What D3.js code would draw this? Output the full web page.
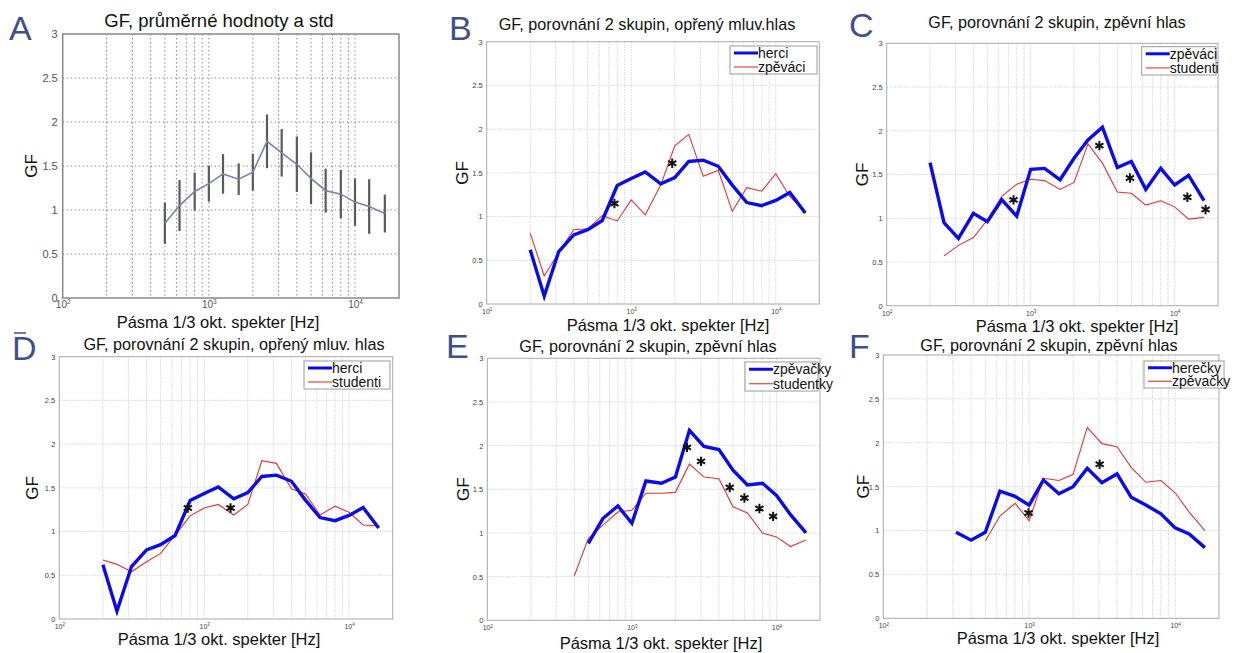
<!DOCTYPE html>
<html>
<head>
<meta charset="utf-8">
<script src="https://cdn.jsdelivr.net/npm/d3@7"></script>
<style>
  body { margin: 0; background: #fff; }
  svg { display: block; font-family: "Liberation Sans", Arial, sans-serif; }
</style>
</head>
<body>
<div id="chart"></div>
<script>
// 1/3 octave band centres, Hz
const bandFreqs = [200, 250, 315, 400, 500, 630, 800, 1000, 1250, 1600, 2000, 2500, 3150, 4000, 5000, 6300, 8000, 10000, 12500, 16000];
const yTicks = [0, 0.5, 1, 1.5, 2, 2.5, 3];
const xTickValues = [100, 1000, 10000];

// A: mean and std (500 Hz .. 16 kHz)
const meanGF = [0.85, 1.05, 1.21, 1.30, 1.41, 1.35, 1.43, 1.78, 1.65, 1.52, 1.36, 1.22, 1.18, 1.09, 1.04, 0.96];
const stdGF = [0.235, 0.29, 0.215, 0.205, 0.225, 0.18, 0.21, 0.305, 0.27, 0.315, 0.295, 0.25, 0.275, 0.27, 0.31, 0.215];

// B, D: spoken voice (200 Hz .. 16 kHz)
const herci = [0.62, 0.09, 0.60, 0.79, 0.85, 0.955, 1.355, 1.435, 1.51, 1.375, 1.445, 1.63, 1.645, 1.575, 1.36, 1.16, 1.125, 1.185, 1.275, 1.04];
const zpevaciMluv = [0.81, 0.32, 0.59, 0.85, 0.86, 1.01, 0.95, 1.19, 1.02, 1.36, 1.81, 1.94, 1.46, 1.53, 1.06, 1.33, 1.29, 1.49, 1.23, 1.05];
const studentiMluv = [0.675, 0.625, 0.54, 0.655, 0.75, 0.96, 1.18, 1.27, 1.31, 1.19, 1.31, 1.81, 1.78, 1.49, 1.43, 1.19, 1.29, 1.22, 1.075, 1.065];

// C: singing voice, men
const zpevaciZpev = [1.635, 0.95, 0.77, 1.056, 0.96, 1.21, 1.025, 1.56, 1.57, 1.44, 1.685, 1.895, 2.04, 1.58, 1.65, 1.33, 1.57, 1.38, 1.49, 1.20];
const studentiZpev = [0.57, 0.69, 0.78, 0.98, 1.25, 1.39, 1.445, 1.43, 1.33, 1.41, 1.85, 1.63, 1.30, 1.285, 1.15, 1.20, 1.13, 0.99, 1.01];

// E, F: singing voice, women
const zpevacky = [0.88, 1.165, 1.31, 1.11, 1.595, 1.57, 1.64, 2.175, 1.99, 1.955, 1.72, 1.55, 1.57, 1.43, 1.21, 1.00];
const studentky = [0.51, 0.94, 1.09, 1.24, 1.26, 1.455, 1.455, 1.465, 1.79, 1.64, 1.62, 1.30, 1.23, 1.00, 0.955, 0.845, 0.92];
const herecky = [0.98, 0.89, 0.98, 1.45, 1.39, 1.29, 1.575, 1.42, 1.50, 1.71, 1.545, 1.645, 1.38, 1.29, 1.19, 1.03, 0.96, 0.805];

// significance marks [Hz, GF]
const starsB = [[765, 1.15], [1920, 1.61]];
const starsC = [[760, 1.21], [3000, 1.83], [4890, 1.46], [12250, 1.24], [16400, 1.10]];
const starsD = [[771, 1.27], [1520, 1.27]];
const starsE = [[2405, 1.98], [3007, 1.82], [4750, 1.52], [6000, 1.40], [7620, 1.28], [9480, 1.19]];
const starsF = [[990, 1.20], [3040, 1.755]];

const xLabel = "Pásma 1/3 okt. spekter [Hz]";
const letterColor = "#3d4f8f";
const blue = "#0a0af0";
const red = "#ee3030";

const panels = [
  { id: "A", box: [62.7, 34, 399, 298], title: "GF, průměrné hodnoty a std", titleXY: [219, 27], titleSize: 18.5,
    letterXY: [9, 40], xLabelXY: [218, 328], yLabelX: 31 },
  { id: "B", box: [486.7, 41.7, 819.3, 304], title: "GF, porovnání 2 skupin, opřený mluv.hlas", titleXY: [647, 30],
    letterXY: [449, 40], xLabelXY: [668, 331], yLabelX: 462, legend: [730, 46, 817, 74], stars: starsB,
    series: [{ name: "herci", values: herci, thick: true }, { name: "zpěváci", values: zpevaciMluv }] },
  { id: "C", box: [886.7, 43.3, 1218, 305.7], title: "GF, porovnání 2 skupin, zpěvní hlas", titleXY: [1057, 28],
    letterXY: [849, 37], xLabelXY: [1077, 332], yLabelX: 862, legend: [1141.7, 46.7, 1216, 75], stars: starsC,
    series: [{ name: "zpěváci", values: zpevaciZpev, thick: true }, { name: "studenti", values: studentiZpev }] },
  { id: "D", box: [59.3, 356.7, 392.7, 619], title: "GF, porovnání 2 skupin, opřený mluv. hlas", titleXY: [234, 350],
    letterXY: [12, 360], overline: true, xLabelXY: [219, 645], yLabelX: 32, legend: [304, 361, 390, 389], stars: starsD,
    series: [{ name: "herci", values: herci, thick: true }, { name: "studenti", values: studentiMluv }] },
  { id: "E", box: [487.3, 358.3, 820, 620.3], title: "GF, porovnání 2 skupin, zpěvní hlas", titleXY: [648, 352],
    letterXY: [446, 358], xLabelXY: [661, 649], yLabelX: 463, legend: [745, 362, 818, 391], stars: starsE,
    series: [{ name: "zpěvačky", values: zpevacky, thick: true }, { name: "studentky", values: studentky }] },
  { id: "F", box: [883.3, 355, 1219, 618.3], title: "GF, porovnání 2 skupin, zpěvní hlas", titleXY: [1049, 351],
    letterXY: [849, 358], xLabelXY: [1058, 644], yLabelX: 863, legend: [1144, 361, 1224, 388], stars: starsF,
    series: [{ name: "herečky", values: herecky, thick: true }, { name: "zpěvačky", values: zpevacky }] }
];

const svg = d3.select("#chart").append("svg").attr("width", 1235).attr("height", 653);

const freqsFor = (values) => bandFreqs.slice(bandFreqs.length - values.length);

panels.forEach(drawPanel);

function drawPanel(p) {
  const [x0, y0, x1, y1] = p.box;
  const isA = p.id === "A";
  const x = d3.scaleLog().domain([100, 20000]).range([x0, x1]);
  const y = d3.scaleLinear().domain([0, 3]).range([y1, y0]);
  const g = svg.append("g").attr("class", "panel-" + p.id);

  // grid
  const grid = g.append("g")
    .attr("stroke", isA ? "#8a8a8a" : "#cfcfcf")
    .attr("stroke-width", isA ? 1 : 0.8)
    .attr("stroke-dasharray", isA ? "1.5,2.5" : "1.5,1");
  grid.selectAll("line.v")
    .data(x.ticks().filter((t) => t > 100 && t < 20000))
    .join("line")
    .attr("class", "v")
    .attr("x1", (d) => x(d)).attr("x2", (d) => x(d))
    .attr("y1", y0).attr("y2", y1);
  grid.selectAll("line.h")
    .data(yTicks.filter((t) => t > 0 && t < 3))
    .join("line")
    .attr("class", "h")
    .attr("x1", x0).attr("x2", x1)
    .attr("y1", (d) => y(d)).attr("y2", (d) => y(d));

  // frame
  g.append("rect")
    .attr("x", x0).attr("y", y0)
    .attr("width", x1 - x0).attr("height", y1 - y0)
    .attr("fill", "none")
    .attr("stroke", isA ? "#888" : "#a8a8a8")
    .attr("stroke-width", isA ? 1.5 : 1);

  // y axis labels
  const yAxis = g.append("g")
    .attr("transform", `translate(${x0},0)`)
    .call(d3.axisLeft(y).tickValues(yTicks).tickSize(0).tickPadding(isA ? 5 : 4).tickFormat(d3.format("")));
  yAxis.select(".domain").remove();
  yAxis.selectAll("text")
    .attr("font-family", "Liberation Sans, Arial, sans-serif")
    .attr("font-size", isA ? 11 : 7.5)
    .attr("fill", isA ? "#555" : "#444");

  // x axis labels 10^n
  const xAxis = g.append("g")
    .attr("transform", `translate(0,${y1})`)
    .call(d3.axisBottom(x).tickValues(xTickValues).tickSize(0).tickPadding(0).tickFormat(() => ""));
  xAxis.select(".domain").remove();
  xAxis.selectAll("text")
    .attr("font-family", "Liberation Sans, Arial, sans-serif")
    .attr("font-size", isA ? 10 : 7)
    .attr("fill", isA ? "#555" : "#444")
    .attr("dy", null)
    .attr("y", 10)
    .each(function (d) {
      const t = d3.select(this);
      t.text("10");
      t.append("tspan").attr("dy", "-0.55em").attr("font-size", "65%").text(Math.round(Math.log10(d)));
    });

  // axis titles
  g.append("text")
    .attr("x", p.xLabelXY[0]).attr("y", p.xLabelXY[1])
    .attr("text-anchor", "middle")
    .attr("font-size", 16.5)
    .attr("fill", "#111")
    .text(xLabel);
  const ly = (y0 + y1) / 2;
  g.append("text")
    .attr("transform", `translate(${p.yLabelX},${ly}) rotate(-90)`)
    .attr("text-anchor", "middle")
    .attr("dy", "0.35em")
    .attr("font-size", 17)
    .attr("fill", "#111")
    .text("GF");

  // title
  g.append("text")
    .attr("x", p.titleXY[0]).attr("y", p.titleXY[1])
    .attr("text-anchor", "middle")
    .attr("font-size", p.titleSize || 16.2)
    .attr("fill", "#111")
    .text(p.title);

  // panel letter
  g.append("text")
    .attr("x", p.letterXY[0]).attr("y", p.letterXY[1])
    .attr("font-size", 34)
    .attr("fill", letterColor)
    .text(p.id);
  if (p.overline) {
    g.append("line")
      .attr("x1", p.letterXY[0] + 2).attr("x2", p.letterXY[0] + 14)
      .attr("y1", p.letterXY[1] - 27).attr("y2", p.letterXY[1] - 27)
      .attr("stroke", letterColor).attr("stroke-width", 1.5);
  }

  const line = d3.line().x((d) => x(d[0])).y((d) => y(d[1]));

  if (isA) {
    const pts = freqsFor(meanGF).map((f, i) => ({ f, m: meanGF[i], s: stdGF[i] }));
    g.append("g").selectAll("line")
      .data(pts)
      .join("line")
      .attr("x1", (d) => x(d.f)).attr("x2", (d) => x(d.f))
      .attr("y1", (d) => y(d.m - d.s)).attr("y2", (d) => y(d.m + d.s))
      .attr("stroke", "#5a5a5a")
      .attr("stroke-width", 2.2);
    g.append("path")
      .datum(pts.map((d) => [d.f, d.m]))
      .attr("d", line)
      .attr("fill", "none")
      .attr("stroke", "#7c80b2")
      .attr("stroke-width", 1.6);
    return;
  }

  // series: thin one under thick one
  const ordered = p.series.slice().sort((a, b) => (a.thick ? 1 : 0) - (b.thick ? 1 : 0));
  ordered.forEach((s) => {
    const fs = freqsFor(s.values);
    g.append("path")
      .datum(s.values.map((v, i) => [fs[i], v]))
      .attr("d", line)
      .attr("fill", "none")
      .attr("stroke", s.thick ? blue : red)
      .attr("stroke-width", s.thick ? 3.4 : 1.1)
      .attr("stroke-linejoin", "miter");
  });

  // asterisks
  g.append("g").selectAll("path")
    .data(p.stars)
    .join("path")
    .attr("transform", (d) => `translate(${x(d[0])},${y(d[1])})`)
    .attr("d", d3.symbol(d3.symbolAsterisk, 62))
    .attr("fill", "none")
    .attr("stroke", "#111")
    .attr("stroke-width", 2);

  // legend
  const [lx0, ly0, lx1, ly1] = p.legend;
  const lg = g.append("g");
  lg.append("rect")
    .attr("x", lx0).attr("y", ly0)
    .attr("width", lx1 - lx0).attr("height", ly1 - ly0)
    .attr("fill", "#fff")
    .attr("stroke", "#9a9a9a")
    .attr("stroke-width", 1);
  const rowH = (ly1 - ly0) / 2;
  const rows = lg.selectAll("g")
    .data(p.series)
    .join("g")
    .attr("transform", (d, i) => `translate(${lx0},${ly0 + rowH * (i + 0.5)})`);
  rows.append("line")
    .attr("x1", 4).attr("x2", 28)
    .attr("stroke", (d) => (d.thick ? blue : red))
    .attr("stroke-width", (d) => (d.thick ? 3 : 1.1));
  rows.append("text")
    .attr("x", 28)
    .attr("dy", "0.35em")
    .attr("font-size", 14)
    .attr("fill", "#111")
    .text((d) => d.name);
}
</script>
</body>
</html>
